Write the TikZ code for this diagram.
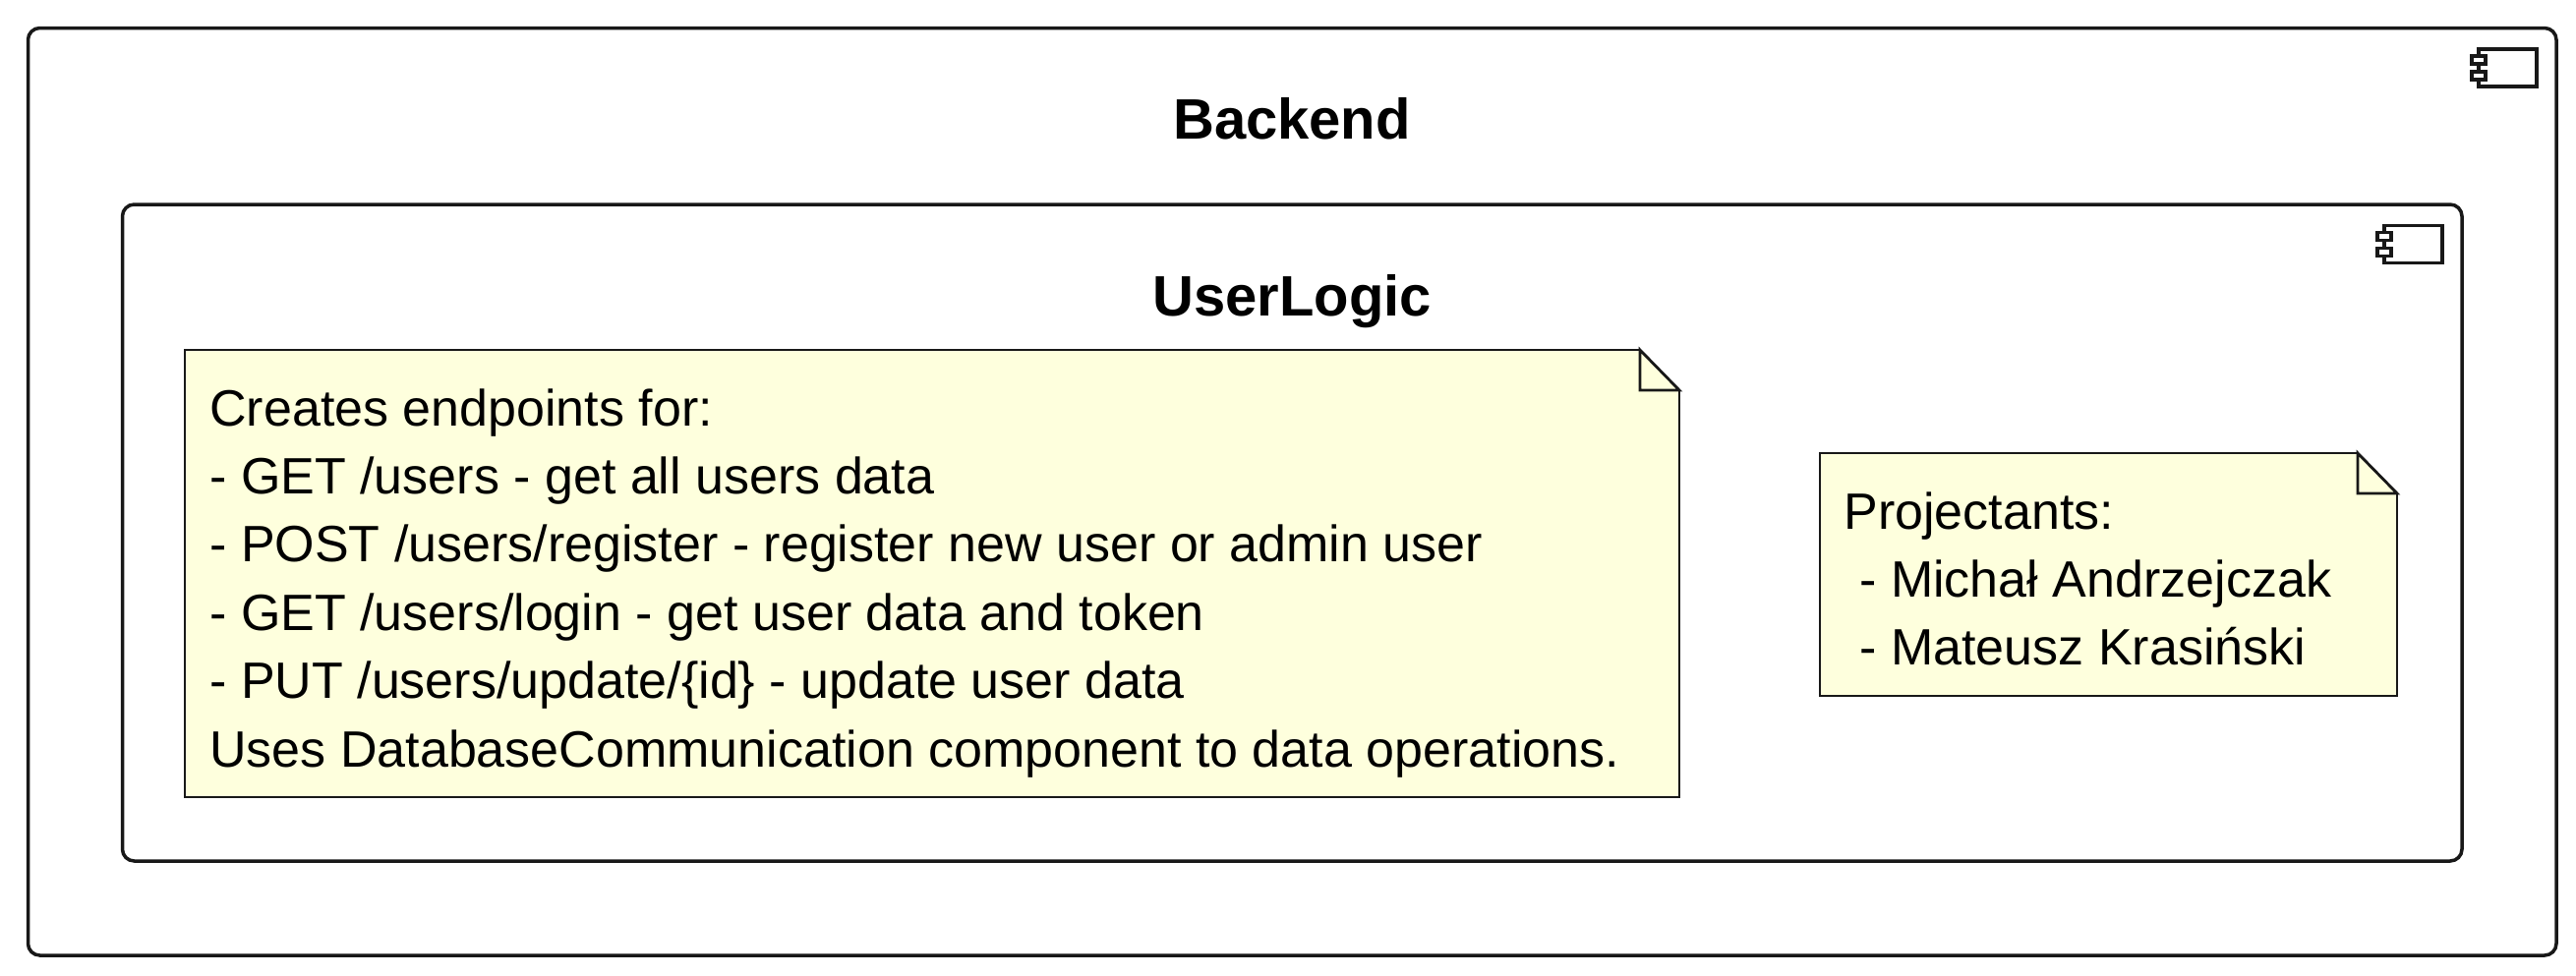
\documentclass[tikz,border=0pt]{standalone}
\usepackage{fontspec}
\setmainfont{Liberation Sans}
\usepackage{tikz}

\definecolor{linecol}{HTML}{181818}
\definecolor{notecol}{HTML}{FEFFDD}

\begin{document}
\begin{tikzpicture}
  [
    x=0.5pt,y=-0.5pt,
    container/.style={draw=linecol, line width=1.75pt, rounded corners=6pt, inner sep=0pt},
    boxtitle/.style={inner sep=0pt, anchor=base, font=\fontsize{29}{34}\selectfont\bfseries},
    notetext/.style={inner sep=0pt, anchor=north west, align=left, font=\fontsize{26}{34.7}\selectfont},
    notebody/.style={draw=linecol, fill=notecol, line width=0.8pt, line join=miter},
    notefold/.style={draw=linecol, line width=1.4pt, line join=miter},
    iconpart/.style={draw=linecol, fill=white, line width=1.75pt}
    ]

  \useasboundingbox (0,0) rectangle (2620,992);

  \node (backend) [container, minimum width=1285.75pt, minimum height=471.75pt] at (1314.25,500.25) {};
  \node (userlogic) [container, minimum width=1189.75pt, minimum height=334pt] at (1314.25,542) {};

  \node (backendtitle) [boxtitle] at (1314,141) {Backend};
  \node (userlogictitle) [boxtitle] at (1314,321) {UserLogic};

  % component icons
  \foreach \corner in {backend,userlogic} {
    \begin{scope}[shift={(\corner.north east)}]
      \draw [iconpart] (-81,23) rectangle (-22,61);
      \draw [iconpart] (-88,30) rectangle (-74,38);
      \draw [iconpart] (-88,46) rectangle (-74,54);
    \end{scope}
  }

  % notes
  \foreach \l/\t/\r/\b in {188/356/1708/811, 1851/461/2438/708} {
    \draw [notebody] (\l,\t) -- (\r-40,\t) -- (\r,\t+41) -- (\r,\b) -- (\l,\b) -- cycle;
    \draw [notefold] (\r-40,\t) -- (\r-40,\t+41) -- (\r,\t+41) -- cycle;
  }

  \node (endpoints) [notetext] at (213,395) {Creates endpoints for:\\
    - GET /users - get all users data\\
    - POST /users/register - register new user or admin user\\
    - GET /users/login - get user data and token\\
    - PUT /users/update/\{id\} - update user data\\
    Uses DatabaseCommunication component to data operations.};
  \node (projectants) [notetext] at (1875,500) {Projectants:\\
    \hspace*{8pt}- Michał Andrzejczak\\
    \hspace*{8pt}- Mateusz Krasiński};
\end{tikzpicture}
\end{document}
